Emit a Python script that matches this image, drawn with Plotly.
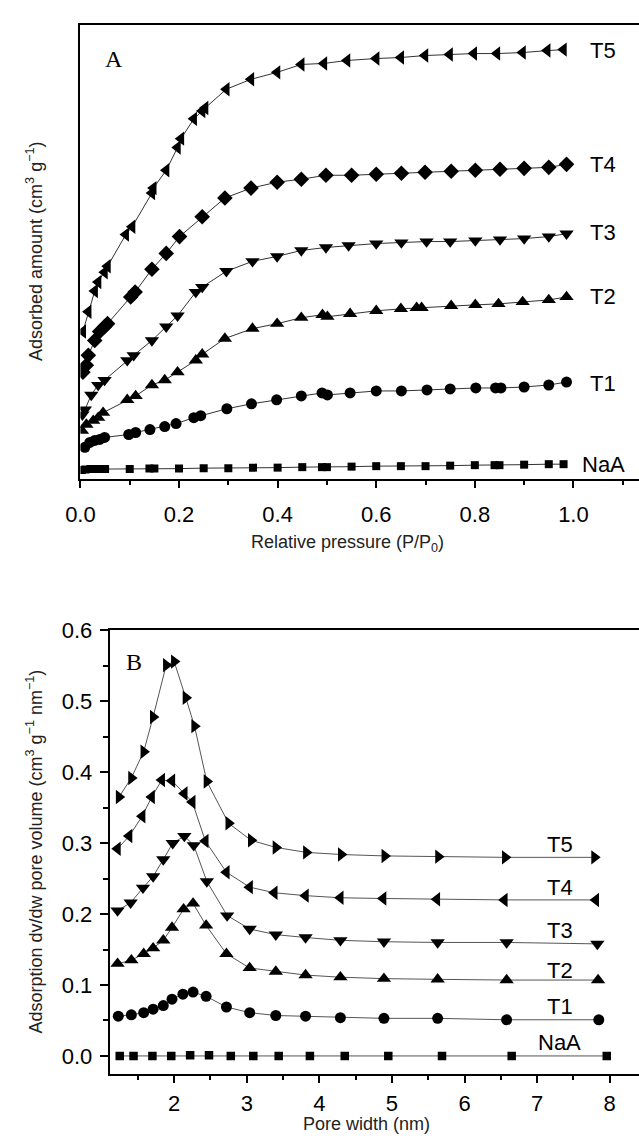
import plotly.graph_objects as go

# ---------------- Panel A: isotherms (relative pressure vs adsorbed amount, offset a.u.) ----------------
NaA_p = [0.003, 0.01, 0.02, 0.03, 0.04, 0.05, 0.10, 0.14, 0.15, 0.20, 0.25, 0.30, 0.35, 0.40, 0.45, 0.49, 0.50,
         0.55, 0.60, 0.65, 0.70, 0.75, 0.80, 0.84, 0.85, 0.90, 0.95, 0.98]
NaA_a = [11, 11.5, 12, 12, 12, 12, 12, 12.5, 12.5, 12.5, 13, 13, 13.5, 13.5, 14, 14, 14,
         14.5, 15, 15, 15, 15.5, 16, 16, 16, 16.5, 17, 17]

T1_p = [0.009, 0.019, 0.029, 0.039, 0.049, 0.098, 0.112, 0.141, 0.171, 0.194, 0.230, 0.244, 0.297, 0.347,
        0.398, 0.448, 0.490, 0.501, 0.547, 0.600, 0.651, 0.703, 0.750, 0.802, 0.842, 0.853, 0.900, 0.950, 0.986]
T1_a = [34, 39, 41, 42, 44, 47, 49, 52, 55, 58, 64, 66, 73, 78,
        82, 86, 89, 87, 89, 91, 91, 92, 93, 94, 94, 94, 95, 97, 100]

T2_p = [0.003, 0.012, 0.026, 0.036, 0.046, 0.095, 0.112, 0.145, 0.171, 0.197, 0.234, 0.247, 0.293, 0.349,
        0.399, 0.448, 0.491, 0.501, 0.547, 0.600, 0.650, 0.682, 0.692, 0.752, 0.801, 0.848, 0.897, 0.950, 0.986]
T2_a = [51, 57, 61, 64, 69, 82, 86, 97, 102, 110, 122, 128, 144, 154,
        159, 165, 168, 166, 169, 172, 174, 175, 175, 177, 178, 179, 181, 183, 186]

T3_p = [0.004, 0.009, 0.022, 0.036, 0.049, 0.095, 0.108, 0.145, 0.174, 0.197, 0.234, 0.247, 0.296, 0.349,
        0.399, 0.448, 0.498, 0.544, 0.600, 0.651, 0.702, 0.750, 0.801, 0.851, 0.900, 0.950, 0.986]
T3_a = [67, 72, 87, 97, 102, 122, 127, 142, 156, 167, 191, 196, 212, 222,
        227, 233, 236, 238, 240, 241, 242, 242, 243, 244, 245, 247, 250]

T4_p = [0.005, 0.012, 0.016, 0.029, 0.039, 0.049, 0.055, 0.102, 0.111, 0.145, 0.174, 0.201, 0.247, 0.293,
        0.346, 0.399, 0.448, 0.498, 0.550, 0.600, 0.651, 0.699, 0.752, 0.801, 0.851, 0.900, 0.950, 0.986]
T4_a = [110, 117, 127, 142, 151, 156, 159, 186, 191, 214, 230, 247, 267, 286,
        296, 302, 305, 309, 309, 310, 311, 312, 313, 314, 315, 316, 317, 320]

T5_p = [0.005, 0.016, 0.029, 0.036, 0.049, 0.055, 0.092, 0.105, 0.145, 0.148, 0.174, 0.197, 0.204, 0.230,
        0.247, 0.253, 0.296, 0.346, 0.399, 0.448, 0.494, 0.541, 0.600, 0.650, 0.699, 0.749, 0.798, 0.845,
        0.897, 0.947, 0.980]
T5_a = [151, 171, 192, 201, 211, 217, 249, 257, 291, 296, 314, 337, 346, 366,
        374, 377, 396, 406, 413, 421, 422, 425, 427, 428, 430, 431, 432, 432,
        433, 435, 436]

# ---------------- Panel B: pore size distribution ----------------
NaA_w = [1.25, 1.44, 1.70, 1.96, 2.22, 2.48, 2.78, 3.09, 3.44, 3.87, 4.35, 4.95, 5.69, 6.65, 7.96]
NaA_v = [0.000, 0.000, 0.000, 0.000, 0.001, 0.001, 0.000, 0.000, 0.000, 0.000, 0.000, 0.000, 0.000, 0.000, 0.000]

T1_w = [1.23, 1.41, 1.58, 1.71, 1.85, 1.97, 2.12, 2.26, 2.44, 2.72, 3.04, 3.40, 3.81, 4.29, 4.89, 5.63, 6.58, 7.85]
T1_v = [0.056, 0.058, 0.061, 0.066, 0.071, 0.080, 0.087, 0.090, 0.084, 0.069, 0.061, 0.057, 0.056, 0.054, 0.053,
        0.053, 0.051, 0.051]

T2_w = [1.22, 1.41, 1.58, 1.71, 1.85, 1.97, 2.13, 2.26, 2.44, 2.72, 3.04, 3.40, 3.81, 4.29, 4.89, 5.63, 6.58, 7.84]
T2_v = [0.130, 0.135, 0.144, 0.152, 0.163, 0.181, 0.207, 0.215, 0.184, 0.144, 0.124, 0.119, 0.114, 0.111, 0.109,
        0.108, 0.107, 0.107]

T3_w = [1.22, 1.40, 1.57, 1.71, 1.85, 1.98, 2.14, 2.27, 2.45, 2.73, 3.04, 3.40, 3.81, 4.29, 4.89, 5.63, 6.58, 7.83]
T3_v = [0.205, 0.216, 0.237, 0.253, 0.277, 0.300, 0.310, 0.297, 0.246, 0.198, 0.179, 0.171, 0.167, 0.163, 0.161,
        0.160, 0.160, 0.158]

T4_w = [1.22, 1.38, 1.56, 1.69, 1.83, 1.97, 2.14, 2.25, 2.43, 2.72, 3.04, 3.38, 3.81, 4.29, 4.88, 5.62, 6.55, 7.81]
T4_v = [0.292, 0.310, 0.338, 0.365, 0.389, 0.388, 0.370, 0.358, 0.303, 0.259, 0.238, 0.230, 0.226, 0.223, 0.222,
        0.221, 0.220, 0.220]

T5_w = [1.24, 1.41, 1.58, 1.71, 1.89, 2.00, 2.16, 2.28, 2.45, 2.75, 3.06, 3.40, 3.82, 4.30, 4.90, 5.64, 6.56, 7.79]
T5_v = [0.365, 0.392, 0.429, 0.478, 0.551, 0.556, 0.505, 0.465, 0.387, 0.328, 0.304, 0.294, 0.287, 0.284, 0.282,
        0.281, 0.280, 0.280]

names = ["NaA", "T1", "T2", "T3", "T4", "T5"]
symbols = ["square", "circle", "triangle-up", "triangle-down", "diamond", "triangle-left"]
symbols_b = ["square", "circle", "triangle-up", "triangle-down", "triangle-left", "triangle-right"]
A_series = [(NaA_p, NaA_a), (T1_p, T1_a), (T2_p, T2_a), (T3_p, T3_a), (T4_p, T4_a), (T5_p, T5_a)]
B_series = [(NaA_w, NaA_v), (T1_w, T1_v), (T2_w, T2_v), (T3_w, T3_v), (T4_w, T4_v), (T5_w, T5_v)]
sizes_a = [8, 11, 12.5, 12.5, 12, 12.5]
sizes_b = [8.5, 11, 12.5, 12.5, 12.5, 12.5]

# label positions (data coords)
A_label_x = 1.06
A_label_y = [17, 99, 186, 251, 320, 435]
B_label_x = 7.31
B_label_y = [0.019, 0.070, 0.121, 0.177, 0.237, 0.298]

fig = go.Figure()
for (x, y), nm, sym, sz in zip(A_series, names, symbols, sizes_a):
    fig.add_trace(go.Scatter(x=x, y=y, mode="lines+markers", name=nm, xaxis="x", yaxis="y",
                             line=dict(color="#333333", width=1),
                             marker=dict(symbol=sym, size=sz, color="black", line=dict(width=0)),
                             showlegend=False))
for (x, y), nm, sym, sz in zip(B_series, names, symbols_b, sizes_b):
    fig.add_trace(go.Scatter(x=x, y=y, mode="lines+markers", name=nm, xaxis="x2", yaxis="y2",
                             line=dict(color="#555555", width=1),
                             marker=dict(symbol=sym, size=sz, color="black", line=dict(width=0)),
                             showlegend=False))

W, H = 639, 1136
top_dom = [1 - 472 / H, 1 - 13 / H]
bot_dom = [1 - 1073 / H, 1 - 625 / H]
tickfont = dict(family="Liberation Sans, Arial, sans-serif", size=22, color="black")

fig.update_layout(
    width=W, height=H, margin=dict(l=0, r=0, t=0, b=0),
    paper_bgcolor="white", plot_bgcolor="white",
    xaxis=dict(domain=[67 / W, 1], range=[0, 1.133], anchor="y",
               tickmode="array", tickvals=[0, 0.2, 0.4, 0.6, 0.8, 1.0],
               ticktext=["0.0", "0.2", "0.4", "0.6", "0.8", "1.0"],
               ticks="outside", ticklen=7, tickwidth=1.5, tickcolor="black", ticklabelstandoff=8,
               minor=dict(tickvals=[0.1, 0.3, 0.5, 0.7, 0.9, 1.1], ticks="outside", ticklen=4,
                          tickwidth=1.5, tickcolor="black"),
               showline=True, linecolor="black", linewidth=2, mirror=True,
               showgrid=False, zeroline=False, tickfont=tickfont),
    yaxis=dict(domain=top_dom, range=[2, 461], anchor="x",
               showticklabels=False, ticks="", showline=True, linecolor="black", linewidth=2,
               mirror=False, showgrid=False, zeroline=False),
    xaxis2=dict(domain=[97 / W, 1], range=[1.112, 8.404], anchor="y2",
                tickmode="array", tickvals=[2, 3, 4, 5, 6, 7, 8],
                ticks="outside", ticklen=7, tickwidth=1.5, tickcolor="black", ticklabelstandoff=2,
                minor=dict(tickvals=[1.5, 2.5, 3.5, 4.5, 5.5, 6.5, 7.5], ticks="outside", ticklen=4,
                           tickwidth=1.5, tickcolor="black"),
                showline=True, linecolor="black", linewidth=2, mirror=True,
                showgrid=False, zeroline=False, tickfont=tickfont),
    yaxis2=dict(domain=bot_dom, range=[-0.025, 0.6], anchor="x2",
                tickmode="array", tickvals=[0.0, 0.1, 0.2, 0.3, 0.4, 0.5, 0.6],
                ticktext=["0.0", "0.1", "0.2", "0.3", "0.4", "0.5", "0.6"],
                ticks="outside", ticklen=8, tickwidth=1.5, tickcolor="black", ticklabelstandoff=3,
                minor=dict(tickvals=[0.05, 0.15, 0.25, 0.35, 0.45, 0.55], ticks="outside", ticklen=5,
                           tickwidth=1.5, tickcolor="black"),
                showline=True, linecolor="black", linewidth=2, mirror=False,
                showgrid=False, zeroline=False, tickfont=tickfont),
)

lab_font = dict(family="Liberation Sans, Arial, sans-serif", size=22, color="black")
for nm, yy in zip(names, A_label_y):
    fig.add_annotation(x=A_label_x, y=yy, xref="x", yref="y", text=nm, showarrow=False,
                       font=lab_font, xanchor="center", yanchor="middle")
for nm, yy in zip(names, B_label_y):
    fig.add_annotation(x=B_label_x, y=yy, xref="x2", yref="y2", text=nm, showarrow=False,
                       font=lab_font, xanchor="center", yanchor="middle")

serif = dict(family="Liberation Serif, Times New Roman, serif", size=24, color="black")
fig.add_annotation(x=0.069, y=426, xref="x", yref="y", text="A", showarrow=False, font=serif)
fig.add_annotation(x=1.44, y=0.555, xref="x2", yref="y2", text="B", showarrow=False, font=serif)

title_font = dict(family="Liberation Sans, Arial, sans-serif", size=18, color="#222222")
fig.add_annotation(x=341 / W, y=1 - 537 / H, xref="paper", yref="paper",
                   text="Relative pressure (P/P<sub>0</sub>)", showarrow=False, font=title_font,
                   xanchor="center", yanchor="middle")
fig.add_annotation(x=360 / W, y=1 - 1124 / H, xref="paper", yref="paper",
                   text="Pore width (nm)", showarrow=False, font=title_font,
                   xanchor="center", yanchor="middle")
fig.add_annotation(x=20 / W, y=1 - 242 / H, xref="paper", yref="paper",
                   text="Adsorbed amount (cm<sup>3</sup> g<sup>−1</sup>)", showarrow=False, font=title_font,
                   textangle=-90, xanchor="center", yanchor="middle")
fig.add_annotation(x=20 / W, y=1 - 849 / H, xref="paper", yref="paper",
                   text="Adsorption dv/dw pore volume (cm<sup>3</sup> g<sup>−1</sup> nm<sup>−1</sup>)",
                   showarrow=False, font=title_font,
                   textangle=-90, xanchor="center", yanchor="middle")

fig.write_html("out.html", config={"displayModeBar": False},
               post_script="document.body.style.margin='0px';document.body.style.overflow='hidden';")
